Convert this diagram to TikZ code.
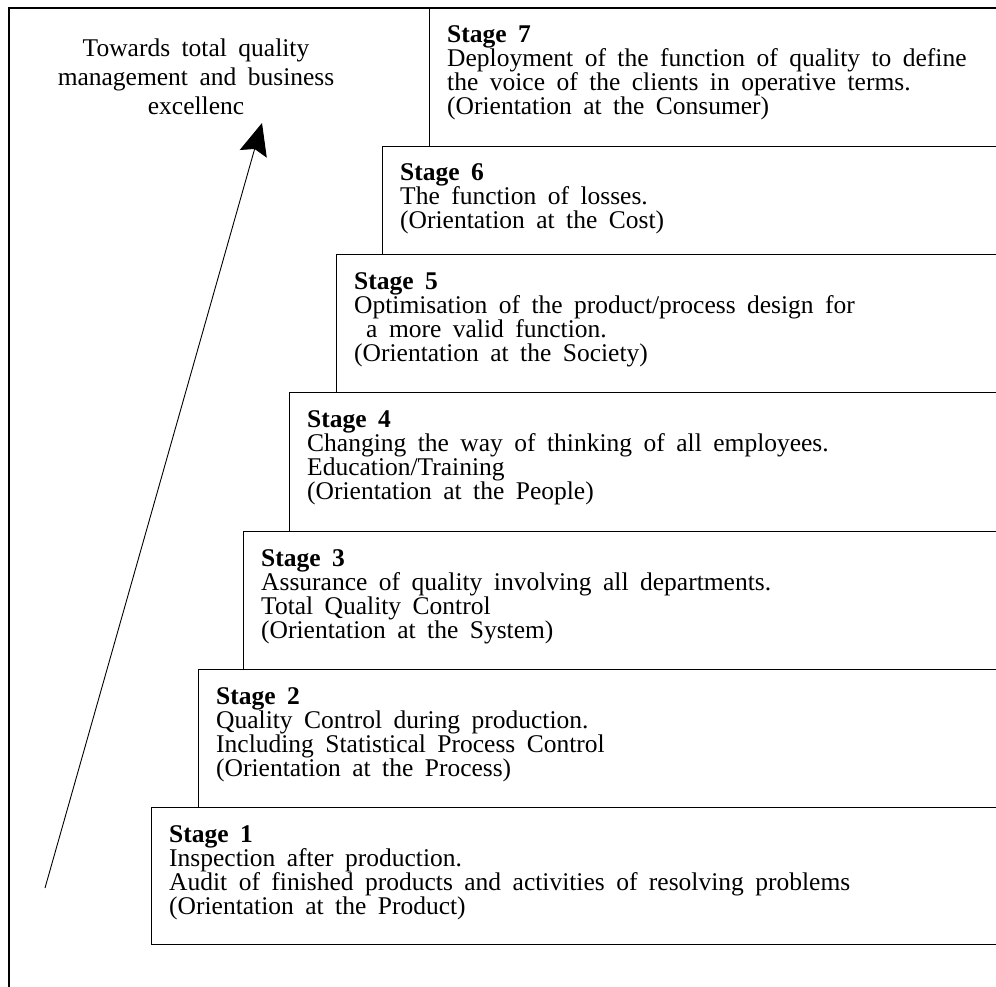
\documentclass[tikz,border=0pt]{standalone}
\usepackage{fontspec}
\setmainfont{Liberation Serif}[WordSpace=1.8]
\usetikzlibrary{arrows.meta}
\newcommand\stglines[1]{\vtop{\halign{##\hfil\cr#1\crcr}}}
\newcommand\ctrlines[1]{\vtop{\halign{\hfil##\hfil\cr#1\crcr}}}
\begin{document}
\begin{tikzpicture}[x=1pt,y=-1pt,
  stagebox/.style={draw, line width=1.4pt, rectangle, anchor=north west, inner sep=0pt, minimum height=138pt},
  stagetext/.style={anchor=base west, inner sep=0pt, font=\fontsize{25.5}{24}\selectfont},
  titletext/.style={anchor=base, inner sep=0pt, font=\fontsize{25.5}{29}\selectfont},
  frameline/.style={line width=1.4pt},
  upward/.style={line width=0.9pt, -{Stealth[length=32pt, width=28pt, inset=5pt]}}]
\useasboundingbox (0,0) rectangle (996,987);
\clip (0,0) rectangle (996,987);
\fill[white] (0,0) rectangle (996,987);
% frame
\draw[frameline] (9,1000) -- (9,8) -- (1010,8);
% boxes
\node[stagebox, minimum width=581pt] (b7) at (429,8) {};
\node[stagebox, minimum width=628pt, minimum height=108pt] (b6) at (382,146) {};
\node[stagebox, minimum width=674pt] (b5) at (336,254) {};
\node[stagebox, minimum width=721pt, minimum height=139pt] (b4) at (289,392) {};
\node[stagebox, minimum width=767pt] (b3) at (243,531) {};
\node[stagebox, minimum width=812pt] (b2) at (198,669) {};
\node[stagebox, minimum width=859pt, minimum height=137pt] (b1) at (151,807) {};
% texts
\node[stagetext] (t7) at ([shift={(18,35)}]b7.north west) {\stglines{\textbf{Stage 7}\cr Deployment of the function of quality to define\cr the voice of the clients in operative terms.\cr (Orientation at the Consumer)}};
\node[stagetext] (t6) at ([shift={(18,35)}]b6.north west) {\stglines{\textbf{Stage 6}\cr The function of losses.\cr (Orientation at the Cost)}};
\node[stagetext] (t5) at ([shift={(18,35)}]b5.north west) {\stglines{\textbf{Stage 5}\cr Optimisation of the product/process design for\cr \hspace*{12pt}a more valid function.\cr (Orientation at the Society)}};
\node[stagetext] (t4) at ([shift={(18,35)}]b4.north west) {\stglines{\textbf{Stage 4}\cr Changing the way of thinking of all employees.\cr Education/Training\cr (Orientation at the People)}};
\node[stagetext] (t3) at ([shift={(18,35)}]b3.north west) {\stglines{\textbf{Stage 3}\cr Assurance of quality involving all departments.\cr Total Quality Control\cr (Orientation at the System)}};
\node[stagetext] (t2) at ([shift={(18,35)}]b2.north west) {\stglines{\textbf{Stage 2}\cr Quality Control during production.\cr Including Statistical Process Control\cr (Orientation at the Process)}};
\node[stagetext] (t1) at ([shift={(18,35)}]b1.north west) {\stglines{\textbf{Stage 1}\cr Inspection after production.\cr Audit of finished products and activities of resolving problems\cr (Orientation at the Product)}};
% title and arrow
\node[titletext] (title) at (196,57) {\ctrlines{Towards total quality\cr management and business\cr excellenc}};
\coordinate (a0) at (45,888);
\coordinate (a1) at (262,123);
\draw[upward] (a0) -- (a1);
\end{tikzpicture}
\end{document}
